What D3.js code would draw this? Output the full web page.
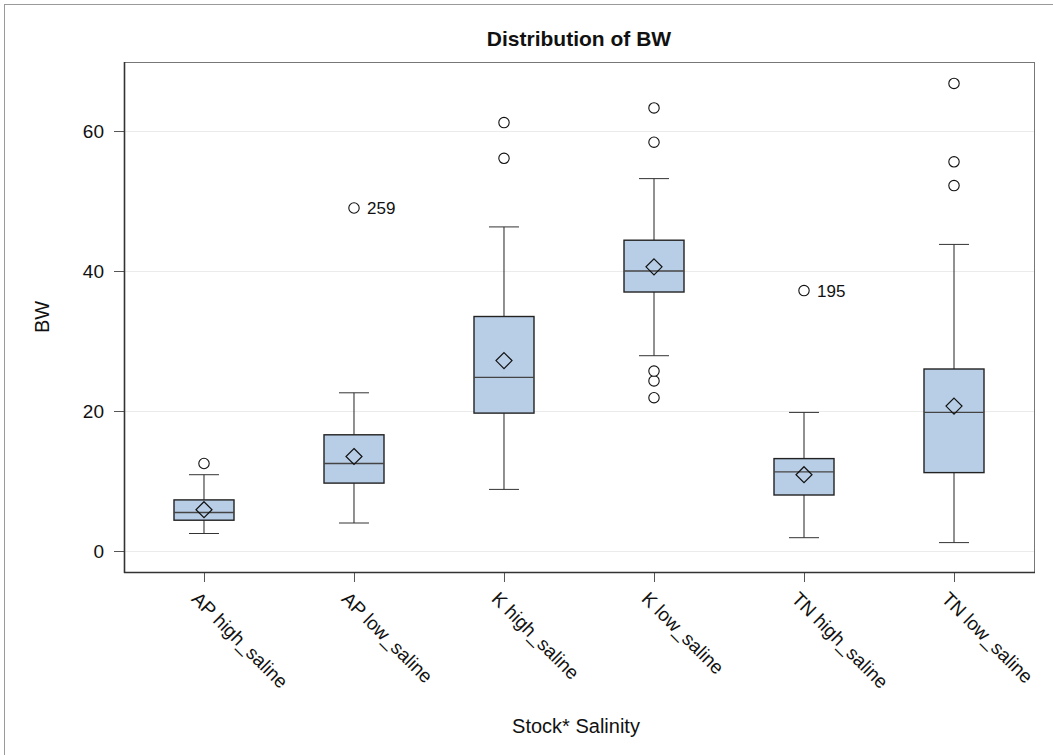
<!DOCTYPE html>
<html>
<head>
<meta charset="utf-8">
<script src="https://cdn.jsdelivr.net/npm/d3@7"></script>
<style>
  body { margin: 0; background: #fff; }
  text { font-family: Arial, "Liberation Sans", Helvetica, sans-serif; }
</style>
</head>
<body>
<div id="chart"></div>
<script>
// box statistics
var categories = ["AP high_saline", "AP low_saline", "K high_saline", "K low_saline", "TN high_saline", "TN low_saline"];
var whiskerLow  = [2.5, 4.0, 8.8, 27.9, 1.9, 1.2];
var q1          = [4.4, 9.7, 19.7, 37.0, 8.0, 11.2];
var medians     = [5.5, 12.5, 24.8, 40.0, 11.3, 19.8];
var q3          = [7.3, 16.6, 33.5, 44.4, 13.2, 26.0];
var whiskerHigh = [10.9, 22.6, 46.3, 53.2, 19.8, 43.8];
var means       = [5.9, 13.5, 27.2, 40.6, 10.9, 20.7];
var outliers = [
    [12.5],
    [49.0],
    [56.1, 61.2],
    [21.9, 24.3, 25.7, 58.4, 63.3],
    [37.2],
    [52.2, 55.6, 66.8]
];
var outlierLabels = [
    { cat: "AP low_saline", val: 49.0, label: "259" },
    { cat: "TN high_saline", val: 37.2, label: "195" }
];
var yTicks = [0, 20, 40, 60];

var W = 1053, H = 755;
var plotLeft = 124, plotRight = 1034, plotTop = 62, plotBottom = 572;

var svg = d3.select("#chart").append("svg")
    .attr("width", W)
    .attr("height", H);

// outer graph border
svg.append("rect")
    .attr("x", 4.5).attr("y", 4.5)
    .attr("width", 1100).attr("height", 800)
    .attr("fill", "none")
    .attr("stroke", "#9a9a9a");

var x = d3.scalePoint()
    .domain(categories)
    .range([plotLeft, plotRight])
    .padding(0.5333);

var y = d3.scaleLinear()
    .domain([-3, 69.86])
    .range([plotBottom, plotTop]);

// grid
svg.append("g").selectAll("line")
    .data(yTicks)
    .enter().append("line")
    .attr("x1", plotLeft).attr("x2", plotRight)
    .attr("y1", function (d) { return Math.round(y(d)) + 0.5; })
    .attr("y2", function (d) { return Math.round(y(d)) + 0.5; })
    .attr("stroke", "#ebebeb")
    .attr("stroke-width", 1);

// plot frame
svg.append("rect")
    .attr("x", plotLeft + 0.5).attr("y", plotTop + 0.5)
    .attr("width", plotRight - plotLeft).attr("height", plotBottom - plotTop)
    .attr("fill", "none")
    .attr("stroke", "#777");

// y axis
var yAxis = svg.append("g")
    .attr("transform", "translate(" + plotLeft + ",0)")
    .call(d3.axisLeft(y).tickValues(yTicks).tickSize(10).tickPadding(10));
yAxis.select(".domain").remove();
yAxis.selectAll(".tick line").attr("stroke", "#555");
yAxis.selectAll(".tick text")
    .attr("font-size", "19px")
    .attr("fill", "#111");

svg.append("line")
    .attr("x1", plotLeft + 0.5).attr("x2", plotLeft + 0.5)
    .attr("y1", plotTop).attr("y2", plotBottom + 1)
    .attr("stroke", "#333").attr("stroke-width", 1.6);

// x axis
var xAxis = svg.append("g")
    .attr("transform", "translate(0," + plotBottom + ")")
    .call(d3.axisBottom(x).tickSize(10));
xAxis.select(".domain").remove();
xAxis.selectAll(".tick line").attr("stroke", "#555");
xAxis.selectAll(".tick text")
    .attr("x", 0).attr("y", 0).attr("dy", 0)
    .attr("text-anchor", "start")
    .attr("transform", "translate(-14,28) rotate(45)")
    .attr("font-size", "19px")
    .attr("fill", "#111");

svg.append("line")
    .attr("x1", plotLeft).attr("x2", plotRight + 1)
    .attr("y1", plotBottom + 0.5).attr("y2", plotBottom + 0.5)
    .attr("stroke", "#333").attr("stroke-width", 1.6);

// boxes
var boxW = 60, capW = 30;
var g = svg.append("g");
categories.forEach(function (c, i) {
    var cx = x(c);
    // whiskers
    g.append("line")
        .attr("x1", cx).attr("x2", cx)
        .attr("y1", y(whiskerHigh[i])).attr("y2", y(q3[i]))
        .attr("stroke", "#222");
    g.append("line")
        .attr("x1", cx).attr("x2", cx)
        .attr("y1", y(q1[i])).attr("y2", y(whiskerLow[i]))
        .attr("stroke", "#222");
    [whiskerHigh[i], whiskerLow[i]].forEach(function (v) {
        g.append("line")
            .attr("x1", cx - capW / 2).attr("x2", cx + capW / 2)
            .attr("y1", y(v)).attr("y2", y(v))
            .attr("stroke", "#333");
    });
    // box
    g.append("rect")
        .attr("x", cx - boxW / 2)
        .attr("y", y(q3[i]))
        .attr("width", boxW)
        .attr("height", y(q1[i]) - y(q3[i]))
        .attr("fill", "#b8cee6")
        .attr("stroke", "#222")
        .attr("stroke-width", 1.4);
    g.append("line")
        .attr("x1", cx - boxW / 2).attr("x2", cx + boxW / 2)
        .attr("y1", y(medians[i])).attr("y2", y(medians[i]))
        .attr("stroke", "#444")
        .attr("stroke-width", 1.4);
    // mean diamond
    var my = y(means[i]);
    g.append("path")
        .attr("d", "M" + cx + "," + (my - 8) + "L" + (cx + 8) + "," + my +
                   "L" + cx + "," + (my + 8) + "L" + (cx - 8) + "," + my + "Z")
        .attr("fill", "none")
        .attr("stroke", "#111")
        .attr("stroke-width", 1.2);
    // outliers
    g.selectAll(null)
        .data(outliers[i])
        .enter().append("circle")
        .attr("cx", cx)
        .attr("cy", function (d) { return y(d); })
        .attr("r", 5.2)
        .attr("fill", "#fff")
        .attr("stroke", "#111")
        .attr("stroke-width", 1.1);
});

svg.append("g").selectAll("text")
    .data(outlierLabels)
    .enter().append("text")
    .attr("x", function (d) { return x(d.cat) + 13; })
    .attr("y", function (d) { return y(d.val); })
    .attr("dy", "0.36em")
    .attr("font-size", "17px")
    .attr("fill", "#111")
    .text(function (d) { return d.label; });

// titles
svg.append("text")
    .attr("x", (plotLeft + plotRight) / 2)
    .attr("y", 46)
    .attr("text-anchor", "middle")
    .attr("font-size", "21px")
    .attr("font-weight", "bold")
    .attr("fill", "#111")
    .text("Distribution of BW");

svg.append("text")
    .attr("transform", "translate(49," + ((plotTop + plotBottom) / 2) + ") rotate(-90)")
    .attr("text-anchor", "middle")
    .attr("font-size", "20px")
    .attr("fill", "#111")
    .text("BW");

svg.append("text")
    .attr("x", (plotLeft + plotRight) / 2 - 3)
    .attr("y", 733)
    .attr("text-anchor", "middle")
    .attr("font-size", "20px")
    .attr("fill", "#111")
    .text("Stock* Salinity");
</script>
</body>
</html>
